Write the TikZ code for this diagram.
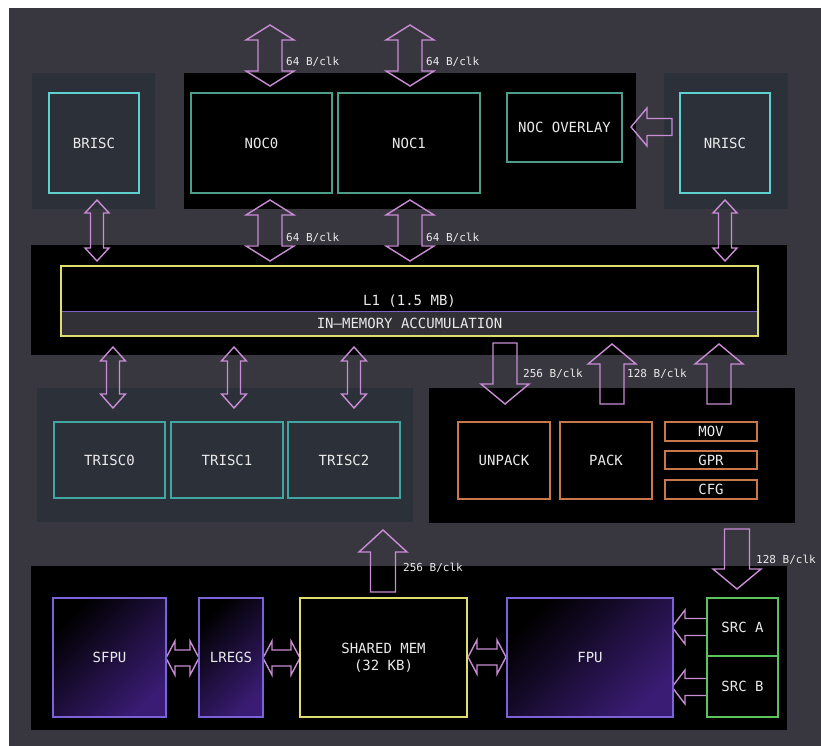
\documentclass[tikz,border=0pt]{standalone}
\usepackage{fontspec}
\setmainfont{DejaVu Sans Mono}
\usetikzlibrary{calc}

\definecolor{bgc}{HTML}{38373F}
\definecolor{panelc}{HTML}{2C3039}
\definecolor{flowc}{HTML}{C98DD6}
\definecolor{nocc}{HTML}{4E9C8A}
\definecolor{riscc}{HTML}{5FD0D0}
\definecolor{triscc}{HTML}{3FA6A2}
\definecolor{l1c}{HTML}{DEDE6C}
\definecolor{accc}{HTML}{7A60C8}
\definecolor{accg}{HTML}{303036}
\definecolor{packc}{HTML}{C8784A}
\definecolor{fpuc}{HTML}{7B62D6}
\definecolor{fpuv}{HTML}{3A1C74}
\definecolor{srcc}{HTML}{5CC25C}
\definecolor{txtc}{HTML}{EAEAEA}

% block arrows (y grows downward)
\newcommand{\varrow}[6]{% x, tail, shoulder, tip, head half, shaft half
  \draw[flowarrow] ({#1-#6},#2) -- ({#1+#6},#2) -- ({#1+#6},#3) -- ({#1+#5},#3) -- (#1,#4) -- ({#1-#5},#3) -- ({#1-#6},#3) -- cycle;}
\newcommand{\harrow}[6]{% y, tail, shoulder, tip, head half, shaft half
  \draw[flowarrow] (#2,{#1-#6}) -- (#2,{#1+#6}) -- (#3,{#1+#6}) -- (#3,{#1+#5}) -- (#4,#1) -- (#3,{#1-#5}) -- (#3,{#1-#6}) -- cycle;}
\newcommand{\vdarrow}[7]{% x, tip1, shoulder1, shoulder2, tip2, head half, shaft half
  \draw[flowarrow] (#1,#2) -- ({#1+#6},#3) -- ({#1+#7},#3) -- ({#1+#7},#4) -- ({#1+#6},#4) -- (#1,#5) -- ({#1-#6},#4) -- ({#1-#7},#4) -- ({#1-#7},#3) -- ({#1-#6},#3) -- cycle;}
\newcommand{\hdarrow}[7]{% y, tip1, shoulder1, shoulder2, tip2, head half, shaft half
  \draw[flowarrow] (#2,#1) -- (#3,{#1+#6}) -- (#3,{#1+#7}) -- (#4,{#1+#7}) -- (#4,{#1+#6}) -- (#5,#1) -- (#4,{#1-#6}) -- (#4,{#1-#7}) -- (#3,{#1-#7}) -- (#3,{#1-#6}) -- cycle;}

\begin{document}
\begin{tikzpicture}[x=1pt, y=-1pt,
  blk/.style={fill=black, inner sep=0pt},
  panel/.style={fill=panelc, inner sep=0pt},
  ubox/.style={draw, line width=1.6pt, fill=black, text=txtc, inner sep=0pt, font=\fontsize{14}{17}\selectfont},
  fbox/.style={draw=fpuc, line width=1.6pt, top color=black, bottom color=fpuv, shading angle=45, text=txtc, inner sep=0pt, font=\fontsize{14}{17}\selectfont},
  rate/.style={text=txtc, anchor=west, inner sep=0pt, font=\fontsize{11}{13}\selectfont},
  flowarrow/.style={draw=flowc, line width=1.4pt, line join=miter}]
\useasboundingbox (0,0) rectangle (821,746);
\fill[white] (0,0) rectangle (821,746);
\fill[bgc] (9,8) rectangle (821,746);

% panels and blocks
\node[panel, minimum width=123pt, minimum height=136pt] (brpanel) at (93.5,141) {};
\node[panel, minimum width=124pt, minimum height=136pt] (nrpanel) at (726,141) {};
\node[blk, minimum width=452pt, minimum height=136pt] (nocblk) at (410,141) {};
\node[blk, minimum width=756pt, minimum height=110pt] (l1blk) at (409,300) {};
\node[panel, minimum width=376pt, minimum height=134pt] (trpanel) at (225,455) {};
\node[blk, minimum width=366pt, minimum height=135pt] (pkblk) at (612,455.5) {};
\node[blk, minimum width=756pt, minimum height=164pt] (fpublk) at (409,648) {};

% arrows
\vdarrow{270}{25}{40}{71}{86}{24}{12}
\vdarrow{410}{25}{40}{71}{86}{24}{12}
\vdarrow{270}{200}{215}{246}{261}{24}{12}
\vdarrow{410}{200}{215}{246}{261}{24}{12}
\vdarrow{97}{200}{213}{248}{261}{12}{6.5}
\vdarrow{725}{200}{213}{248}{261}{12}{6.5}
\harrow{127}{672}{647}{631}{19}{8.5}
\vdarrow{113}{347}{361}{394}{408}{12.5}{6.5}
\vdarrow{234}{347}{361}{394}{408}{12.5}{6.5}
\vdarrow{354}{347}{361}{394}{408}{12.5}{6.5}
\varrow{505}{343}{384}{404}{24}{12}
\varrow{612}{404}{364}{344}{24}{12}
\varrow{719}{404}{364}{344}{24}{12}
\varrow{383}{592}{552}{530}{24}{12.5}
\varrow{737}{529}{569}{589}{24}{12.5}
\hdarrow{658}{166}{175}{190}{199}{17}{8}
\hdarrow{658}{263}{272}{291}{300}{17}{8}
\hdarrow{657}{468}{477}{497}{506}{17}{8}
\harrow{627}{707}{685}{672}{17}{8.5}
\harrow{687}{707}{685}{672}{17}{8.5}

% rates
\node[rate] (r1) at (286,62) {64 B/clk};
\node[rate] (r2) at (426,62) {64 B/clk};
\node[rate] (r3) at (286,238) {64 B/clk};
\node[rate] (r4) at (426,238) {64 B/clk};
\node[rate] (r5) at (523,374) {256 B/clk};
\node[rate] (r6) at (627,374) {128 B/clk};
\node[rate] (r7) at (403,568) {256 B/clk};
\node[rate] (r8) at (756,560) {128 B/clk};

% top row
\node[ubox, draw=riscc, fill=panelc, minimum width=90pt, minimum height=100pt] (brisc) at (94,143) {BRISC};
\node[ubox, draw=riscc, fill=panelc, minimum width=90pt, minimum height=100pt] (nrisc) at (725,143) {NRISC};
\node[ubox, draw=nocc, minimum width=141pt, minimum height=100pt] (noc0) at (261.5,143) {NOC0};
\node[ubox, draw=nocc, minimum width=142pt, minimum height=100pt] (noc1) at (409,143) {NOC1};
\node[ubox, draw=nocc, minimum width=115pt, minimum height=69pt] (overlay) at (564.5,127.5) {NOC OVERLAY};

% L1
\node[ubox, draw=none, minimum width=695pt, minimum height=68pt] (l1) at (409.5,301) {L1 (1.5 MB)};
\node[ubox, draw=none, fill=accg, minimum width=695pt, minimum height=23pt] (acc) at (409.5,323.5) {IN–MEMORY ACCUMULATION};
\draw[accc, line width=1.2pt] (acc.north west) -- (acc.north east);
\draw[l1c, line width=2pt] (l1.north west) rectangle (l1.south east);

% TRISC row
\node[ubox, draw=triscc, fill=panelc, minimum width=111pt, minimum height=76pt] (trisc0) at (109.5,460) {TRISC0};
\node[ubox, draw=triscc, fill=panelc, minimum width=112pt, minimum height=76pt] (trisc1) at (227,460) {TRISC1};
\node[ubox, draw=triscc, fill=panelc, minimum width=112pt, minimum height=76pt] (trisc2) at (344,460) {TRISC2};

% pack side
\node[ubox, draw=packc, minimum width=92pt, minimum height=77pt] (unpack) at (504,460.5) {UNPACK};
\node[ubox, draw=packc, minimum width=92pt, minimum height=77pt] (pack) at (606,460.5) {PACK};
\node[ubox, draw=packc, minimum width=92pt, minimum height=19pt] (mov) at (711,431.5) {MOV};
\node[ubox, draw=packc, minimum width=92pt, minimum height=18pt] (gpr) at (711,460) {GPR};
\node[ubox, draw=packc, minimum width=92pt, minimum height=19pt] (cfg) at (711,489.5) {CFG};

% math units
\node[fbox, minimum width=113pt, minimum height=119pt] (sfpu) at (109.5,657.5) {SFPU};
\node[fbox, minimum width=64pt, minimum height=119pt] (lregs) at (231,657.5) {LREGS};
\node[ubox, draw=l1c, minimum width=167pt, minimum height=119pt, align=center] (shmem) at (383.5,657.5) {SHARED MEM\\(32 KB)};
\node[fbox, minimum width=166pt, minimum height=119pt] (fpu) at (590,657.5) {FPU};
\node[ubox, draw=srcc, minimum width=71pt, minimum height=58pt] (srca) at (742.5,627) {SRC A};
\node[ubox, draw=srcc, minimum width=71pt, minimum height=61pt] (srcb) at (742.5,686.5) {SRC B};
\end{tikzpicture}
\end{document}
